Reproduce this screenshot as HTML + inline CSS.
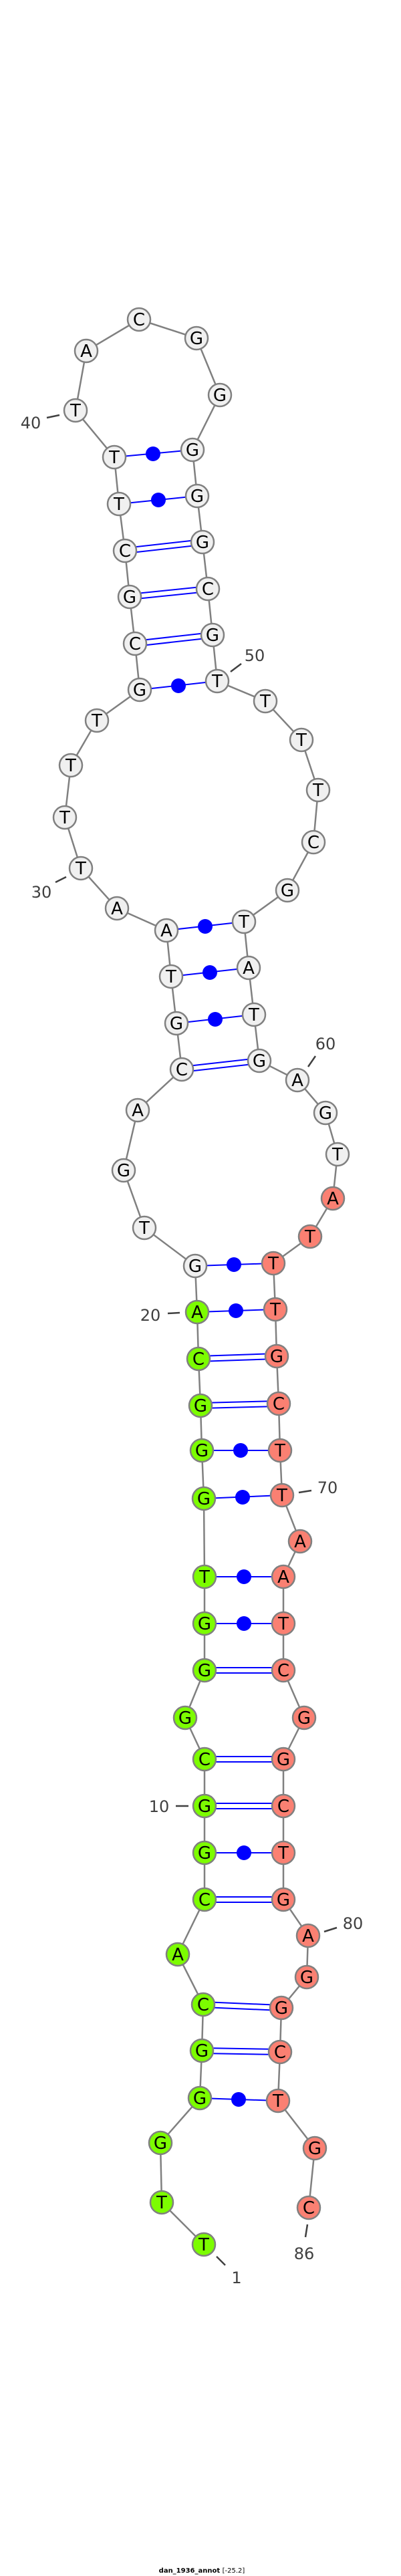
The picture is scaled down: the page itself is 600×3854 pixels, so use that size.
<!DOCTYPE html>
<html><head><meta charset="utf-8"><style>
html,body{margin:0;padding:0;background:#fff;}
svg{display:block;}
.n{stroke:#808080;stroke-width:2.5;}
.w{fill:#f0f0f0}.g{fill:#7cfc00}.r{fill:#fa8072}
text.l{font-family:"DejaVu Sans","Liberation Sans",sans-serif;font-size:26px;fill:#000;text-anchor:middle;}
text.k{font-family:"DejaVu Sans","Liberation Sans",sans-serif;font-size:24px;fill:#404040;text-anchor:middle;}
.bp{stroke:#0000ff;stroke-width:2;}
.tk{stroke:#404040;stroke-width:2.5;}
</style></head><body>
<svg width="600" height="3854" viewBox="0 0 600 3854" xmlns="http://www.w3.org/2000/svg">
<polyline fill="none" stroke="#808080" stroke-width="2.5" points="305,3358 242,3295 240,3206 299,3139 302,3068 304,2999 266,2924 306,2842 306,2772 306,2702 306,2632 277,2570 306,2499 306,2429 306,2359 305,2242 302,2170 300,2103 297,2033 295,1963 292,1894 216,1837 185,1751 206,1661 272,1600 264,1531 256,1461 249,1392 175,1359 121,1299 97,1223 106,1145 145,1078 209,1032 202,963 194,893 187,824 178,754 171,684 113,614 129,525 208,478 294,506 329,591 288,673 295,742 303,811 311,881 318,950 325,1019 397,1049 451,1107 476,1182 469,1260 430,1332 365,1379 372,1448 380,1518 388,1587 445,1616 487,1665 505,1727 498,1793 464,1850 409,1890 412,1959 414,2029 417,2100 419,2170 422,2237 449,2306 424,2359 424,2429 424,2499 455,2570 424,2632 424,2702 424,2772 424,2842 461,2896 459,2958 421,3004 419,3070 416,3143 471,3214 462,3303"/>
<!-- single (dot) pairs -->
<g class="bp">
<line x1="299" y1="3139" x2="416" y2="3143"/>
<line x1="306" y1="2772" x2="424" y2="2772"/>
<line x1="306" y1="2429" x2="424" y2="2429"/>
<line x1="306" y1="2359" x2="424" y2="2359"/>
<line x1="305" y1="2242" x2="422" y2="2237"/>
<line x1="302" y1="2170" x2="419" y2="2170"/>
<line x1="295" y1="1963" x2="412" y2="1959"/>
<line x1="292" y1="1894" x2="409" y2="1890"/>
<line x1="264" y1="1531" x2="380" y2="1518"/>
<line x1="256" y1="1461" x2="372" y2="1448"/>
<line x1="249" y1="1392" x2="365" y2="1379"/>
<line x1="209" y1="1032" x2="325" y2="1019"/>
<line x1="178" y1="754" x2="295" y2="742"/>
<line x1="171" y1="684" x2="288" y2="673"/>
<!-- double pairs -->
<line x1="302" y1="3064" x2="419" y2="3066"/><line x1="302" y1="3072" x2="419" y2="3074"/>
<line x1="304" y1="2995" x2="421" y2="3000"/><line x1="304" y1="3003" x2="421" y2="3008"/>
<line x1="306" y1="2838" x2="424" y2="2838"/><line x1="306" y1="2846" x2="424" y2="2846"/>
<line x1="306" y1="2698" x2="424" y2="2698"/><line x1="306" y1="2706" x2="424" y2="2706"/>
<line x1="306" y1="2628" x2="424" y2="2628"/><line x1="306" y1="2636" x2="424" y2="2636"/>
<line x1="306" y1="2495" x2="424" y2="2495"/><line x1="306" y1="2503" x2="424" y2="2503"/>
<line x1="300" y1="2099" x2="417" y2="2096"/><line x1="300" y1="2107" x2="417" y2="2104"/>
<line x1="297" y1="2029" x2="414" y2="2025"/><line x1="297" y1="2037" x2="414" y2="2033"/>
<line x1="272" y1="1596" x2="388" y2="1583"/><line x1="272" y1="1604" x2="388" y2="1591"/>
<line x1="202" y1="959" x2="318" y2="946"/><line x1="202" y1="967" x2="318" y2="954"/>
<line x1="194" y1="889" x2="311" y2="877"/><line x1="194" y1="897" x2="311" y2="885"/>
<line x1="187" y1="820" x2="303" y2="807"/><line x1="187" y1="828" x2="303" y2="815"/>
</g>
<g fill="#0000ff">
<circle cx="357" cy="3141" r="11"/><circle cx="365" cy="2772" r="11"/><circle cx="365" cy="2429" r="11"/><circle cx="365" cy="2359" r="11"/><circle cx="363" cy="2240" r="11"/><circle cx="360" cy="2170" r="11"/><circle cx="353" cy="1961" r="11"/><circle cx="350" cy="1892" r="11"/><circle cx="322" cy="1525" r="11"/><circle cx="314" cy="1455" r="11"/><circle cx="307" cy="1386" r="11"/><circle cx="267" cy="1026" r="11"/><circle cx="237" cy="748" r="11"/><circle cx="229" cy="679" r="11"/>
</g>
<!-- ticks and labels -->
<g class="tk">
<line x1="324" y1="3376" x2="337" y2="3389"/>
<line x1="460" y1="3328" x2="457" y2="3347"/>
<line x1="263" y1="2702" x2="282" y2="2702"/>
<line x1="485" y1="2890" x2="504" y2="2884"/>
<line x1="447" y1="2233" x2="466" y2="2230"/>
<line x1="251" y1="1965" x2="269" y2="1964"/>
<line x1="461" y1="1596" x2="472" y2="1580"/>
<line x1="83" y1="1320" x2="99" y2="1312"/>
<line x1="70" y1="625" x2="89" y2="621"/>
<line x1="345" y1="1005" x2="361" y2="993"/>
</g>
<text class="k" x="354" y="3416">1</text>
<text class="k" x="455" y="3380">86</text>
<text class="k" x="238" y="2711">10</text>
<text class="k" x="528" y="2886">80</text>
<text class="k" x="490" y="2234">70</text>
<text class="k" x="225" y="1976">20</text>
<text class="k" x="487" y="1570">60</text>
<text class="k" x="62" y="1343">30</text>
<text class="k" x="46" y="641">40</text>
<text class="k" x="381" y="989">50</text>
<!-- nodes -->
<g class="n">
<circle class="g" cx="305" cy="3358" r="17"/><circle class="g" cx="242" cy="3295" r="17"/><circle class="g" cx="240" cy="3206" r="17"/><circle class="g" cx="299" cy="3139" r="17"/><circle class="g" cx="302" cy="3068" r="17"/><circle class="g" cx="304" cy="2999" r="17"/><circle class="g" cx="266" cy="2924" r="17"/><circle class="g" cx="306" cy="2842" r="17"/><circle class="g" cx="306" cy="2772" r="17"/><circle class="g" cx="306" cy="2702" r="17"/><circle class="g" cx="306" cy="2632" r="17"/><circle class="g" cx="277" cy="2570" r="17"/><circle class="g" cx="306" cy="2499" r="17"/><circle class="g" cx="306" cy="2429" r="17"/><circle class="g" cx="306" cy="2359" r="17"/><circle class="g" cx="305" cy="2242" r="17"/><circle class="g" cx="302" cy="2170" r="17"/><circle class="g" cx="300" cy="2103" r="17"/><circle class="g" cx="297" cy="2033" r="17"/><circle class="g" cx="295" cy="1963" r="17"/>
<circle class="w" cx="292" cy="1894" r="17"/><circle class="w" cx="216" cy="1837" r="17"/><circle class="w" cx="185" cy="1751" r="17"/><circle class="w" cx="206" cy="1661" r="17"/><circle class="w" cx="272" cy="1600" r="17"/><circle class="w" cx="264" cy="1531" r="17"/><circle class="w" cx="256" cy="1461" r="17"/><circle class="w" cx="249" cy="1392" r="17"/><circle class="w" cx="175" cy="1359" r="17"/><circle class="w" cx="121" cy="1299" r="17"/><circle class="w" cx="97" cy="1223" r="17"/><circle class="w" cx="106" cy="1145" r="17"/><circle class="w" cx="145" cy="1078" r="17"/><circle class="w" cx="209" cy="1032" r="17"/><circle class="w" cx="202" cy="963" r="17"/><circle class="w" cx="194" cy="893" r="17"/><circle class="w" cx="187" cy="824" r="17"/><circle class="w" cx="178" cy="754" r="17"/><circle class="w" cx="171" cy="684" r="17"/><circle class="w" cx="113" cy="614" r="17"/><circle class="w" cx="129" cy="525" r="17"/><circle class="w" cx="208" cy="478" r="17"/><circle class="w" cx="294" cy="506" r="17"/><circle class="w" cx="329" cy="591" r="17"/><circle class="w" cx="288" cy="673" r="17"/><circle class="w" cx="295" cy="742" r="17"/><circle class="w" cx="303" cy="811" r="17"/><circle class="w" cx="311" cy="881" r="17"/><circle class="w" cx="318" cy="950" r="17"/><circle class="w" cx="325" cy="1019" r="17"/><circle class="w" cx="397" cy="1049" r="17"/><circle class="w" cx="451" cy="1107" r="17"/><circle class="w" cx="476" cy="1182" r="17"/><circle class="w" cx="469" cy="1260" r="17"/><circle class="w" cx="430" cy="1332" r="17"/><circle class="w" cx="365" cy="1379" r="17"/><circle class="w" cx="372" cy="1448" r="17"/><circle class="w" cx="380" cy="1518" r="17"/><circle class="w" cx="388" cy="1587" r="17"/><circle class="w" cx="445" cy="1616" r="17"/><circle class="w" cx="487" cy="1665" r="17"/><circle class="w" cx="505" cy="1727" r="17"/>
<circle class="r" cx="498" cy="1793" r="17"/><circle class="r" cx="464" cy="1850" r="17"/><circle class="r" cx="409" cy="1890" r="17"/><circle class="r" cx="412" cy="1959" r="17"/><circle class="r" cx="414" cy="2029" r="17"/><circle class="r" cx="417" cy="2100" r="17"/><circle class="r" cx="419" cy="2170" r="17"/><circle class="r" cx="422" cy="2237" r="17"/><circle class="r" cx="449" cy="2306" r="17"/><circle class="r" cx="424" cy="2359" r="17"/><circle class="r" cx="424" cy="2429" r="17"/><circle class="r" cx="424" cy="2499" r="17"/><circle class="r" cx="455" cy="2570" r="17"/><circle class="r" cx="424" cy="2632" r="17"/><circle class="r" cx="424" cy="2702" r="17"/><circle class="r" cx="424" cy="2772" r="17"/><circle class="r" cx="424" cy="2842" r="17"/><circle class="r" cx="461" cy="2896" r="17"/><circle class="r" cx="459" cy="2958" r="17"/><circle class="r" cx="421" cy="3004" r="17"/><circle class="r" cx="419" cy="3070" r="17"/><circle class="r" cx="416" cy="3143" r="17"/><circle class="r" cx="471" cy="3214" r="17"/><circle class="r" cx="462" cy="3303" r="17"/>
</g>
<g>
<text class="l" x="305" y="3367">T</text><text class="l" x="242" y="3304">T</text><text class="l" x="240" y="3215">G</text><text class="l" x="299" y="3148">G</text><text class="l" x="302" y="3077">G</text><text class="l" x="304" y="3008">C</text><text class="l" x="266" y="2933">A</text><text class="l" x="306" y="2851">C</text><text class="l" x="306" y="2781">G</text><text class="l" x="306" y="2711">G</text><text class="l" x="306" y="2641">C</text><text class="l" x="277" y="2579">G</text><text class="l" x="306" y="2508">G</text><text class="l" x="306" y="2438">G</text><text class="l" x="306" y="2368">T</text><text class="l" x="305" y="2251">G</text><text class="l" x="302" y="2179">G</text><text class="l" x="300" y="2112">G</text><text class="l" x="297" y="2042">C</text><text class="l" x="295" y="1972">A</text>
<text class="l" x="292" y="1903">G</text><text class="l" x="216" y="1846">T</text><text class="l" x="185" y="1760">G</text><text class="l" x="206" y="1670">A</text><text class="l" x="272" y="1609">C</text><text class="l" x="264" y="1540">G</text><text class="l" x="256" y="1470">T</text><text class="l" x="249" y="1401">A</text><text class="l" x="175" y="1368">A</text><text class="l" x="121" y="1308">T</text><text class="l" x="97" y="1232">T</text><text class="l" x="106" y="1154">T</text><text class="l" x="145" y="1087">T</text><text class="l" x="209" y="1041">G</text><text class="l" x="202" y="972">C</text><text class="l" x="194" y="902">G</text><text class="l" x="187" y="833">C</text><text class="l" x="178" y="763">T</text><text class="l" x="171" y="693">T</text><text class="l" x="113" y="623">T</text><text class="l" x="129" y="534">A</text><text class="l" x="208" y="487">C</text><text class="l" x="294" y="515">G</text><text class="l" x="329" y="600">G</text><text class="l" x="288" y="682">G</text><text class="l" x="295" y="751">G</text><text class="l" x="303" y="820">G</text><text class="l" x="311" y="890">C</text><text class="l" x="318" y="959">G</text><text class="l" x="325" y="1028">T</text><text class="l" x="397" y="1058">T</text><text class="l" x="451" y="1116">T</text><text class="l" x="476" y="1191">T</text><text class="l" x="469" y="1269">C</text><text class="l" x="430" y="1341">G</text><text class="l" x="365" y="1388">T</text><text class="l" x="372" y="1457">A</text><text class="l" x="380" y="1527">T</text><text class="l" x="388" y="1596">G</text><text class="l" x="445" y="1625">A</text><text class="l" x="487" y="1674">G</text><text class="l" x="505" y="1736">T</text>
<text class="l" x="498" y="1802">A</text><text class="l" x="464" y="1859">T</text><text class="l" x="409" y="1899">T</text><text class="l" x="412" y="1968">T</text><text class="l" x="414" y="2038">G</text><text class="l" x="417" y="2109">C</text><text class="l" x="419" y="2179">T</text><text class="l" x="422" y="2246">T</text><text class="l" x="449" y="2315">A</text><text class="l" x="424" y="2368">A</text><text class="l" x="424" y="2438">T</text><text class="l" x="424" y="2508">C</text><text class="l" x="455" y="2579">G</text><text class="l" x="424" y="2641">G</text><text class="l" x="424" y="2711">C</text><text class="l" x="424" y="2781">T</text><text class="l" x="424" y="2851">G</text><text class="l" x="461" y="2905">A</text><text class="l" x="459" y="2967">G</text><text class="l" x="421" y="3013">G</text><text class="l" x="419" y="3079">C</text><text class="l" x="416" y="3152">T</text><text class="l" x="471" y="3223">G</text><text class="l" x="462" y="3312">C</text>
</g>
<text x="302" y="3849" font-family="DejaVu Sans, Liberation Sans, sans-serif" font-size="10" font-weight="bold" fill="#000" text-anchor="middle">dan_1936_annot <tspan font-weight="normal">[-25.2]</tspan></text>
</svg>
</body></html>
